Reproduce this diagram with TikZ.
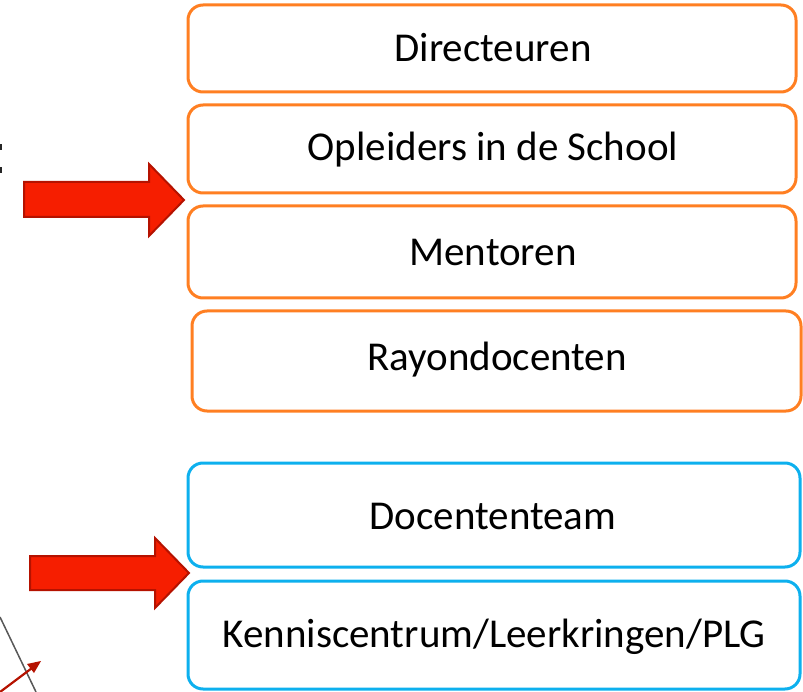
\documentclass[tikz,border=0pt]{standalone}
\usepackage{fontspec}
\setmainfont{Carlito}
\definecolor{boxorange}{HTML}{FF7F22}
\definecolor{boxblue}{HTML}{0DB0EE}
\definecolor{arrowred}{HTML}{F61E00}
\definecolor{arrowedge}{HTML}{B51200}
\begin{document}
\begin{tikzpicture}[x=1pt,y=-1pt,
  orangebox/.style={draw=boxorange,line width=3pt,rounded corners=15pt,fill=white},
  bluebox/.style={draw=boxblue,line width=3pt,rounded corners=15pt,fill=white},
  label/.style={font=\fontsize{41}{49}\selectfont,anchor=center,inner sep=0pt},
  bigarrow/.style={fill=arrowred,draw=arrowedge,line width=2pt,line join=miter}]
\useasboundingbox (0,0) rectangle (803,692);
% boxes
\draw[orangebox] (188,5) rectangle (796,92);
\node[label] (dir) at (493,48) {Directeuren};
\draw[orangebox] (188,105) rectangle (796,193);
\node[label] (ops) at (493,150) {Opleiders in de School};
\draw[orangebox] (188,206) rectangle (796,298);
\node[label] (men) at (493,252) {Mentoren};
\draw[orangebox] (192,311) rectangle (801,411);
\node[label] (ray) at (497,360) {Rayondocenten};
\draw[bluebox] (188,463) rectangle (800,567);
\node[label] (doc) at (493,516) {Docententeam};
\draw[bluebox] (188,581) rectangle (800,689);
\node[label] (ken) at (494,637) {Kenniscentrum/Leerkringen/PLG};
% arrows
\draw[bigarrow] (24,182) -- (149,182) -- (149,164) -- (184,200) -- (149,236) -- (149,217) -- (24,217) -- cycle;
\draw[bigarrow] (30,556) -- (155,556) -- (155,538) -- (189,573) -- (155,608) -- (155,590) -- (30,590) -- cycle;
% fragments at left edge
\fill[black!85] (0,144) rectangle (2,150);
\fill[black!85] (0,167) rectangle (2,173);
\draw[black!65,line width=1.5pt] (0,617) -- (36,692);
\draw[arrowedge,line width=2.2pt] (0,692) -- (36,665);
\fill[arrowedge] (41,661) -- (27,664) -- (34,673) -- cycle;
\end{tikzpicture}
\end{document}
